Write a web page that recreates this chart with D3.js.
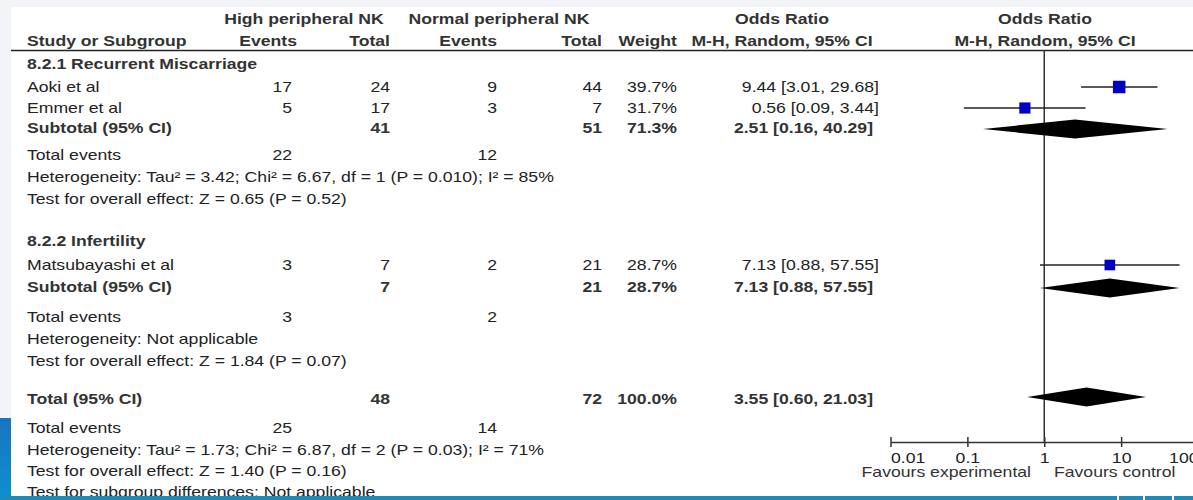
<!DOCTYPE html>
<html>
<head>
<meta charset="utf-8">
<script src="https://cdn.jsdelivr.net/npm/d3@7"></script>
<style>
	body { margin: 0; background: #fff; }
	svg { display: block; font-family: "Liberation Sans", Arial, Helvetica, sans-serif; }
</style>
</head>
<body>
<div id="forest"></div>
<script>

// study rows
const studies = ['Aoki et al', 'Emmer et al', 'Matsubayashi et al']
const studyGroup = [0, 0, 1]
const highEvents = [17, 5, 3]
const highTotal = [24, 17, 7]
const normalEvents = [9, 3, 2]
const normalTotal = [44, 7, 21]
const weights = [39.7, 31.7, 28.7]
const oddsRatio = [9.44, 0.56, 7.13]
const ciLow = [3.01, 0.09, 0.88]
const ciHigh = [29.68, 3.44, 57.55]

// subgroups
const groupNames = ['8.2.1 Recurrent Miscarriage', '8.2.2 Infertility']
const groupHighTotal = [41, 7]
const groupNormalTotal = [51, 21]
const groupWeight = [71.3, 28.7]
const groupOR = [2.51, 7.13]
const groupLow = [0.16, 0.88]
const groupHigh = [40.29, 57.55]
const groupHighEvents = [22, 3]
const groupNormalEvents = [12, 2]
const groupHetero = ['Heterogeneity: Tau² = 3.42; Chi² = 6.67, df = 1 (P = 0.010); I² = 85%', 'Heterogeneity: Not applicable']
const groupEffect = ['Test for overall effect: Z = 0.65 (P = 0.52)', 'Test for overall effect: Z = 1.84 (P = 0.07)']

// overall
const overallTotals = [48, 72]
const overallWeight = [100.0]
const overallOR = [3.55, 0.60, 21.03]
const overallEvents = [25, 14]
const overallText = ['Heterogeneity: Tau² = 1.73; Chi² = 6.87, df = 2 (P = 0.03); I² = 71%', 'Test for overall effect: Z = 1.40 (P = 0.16)', 'Test for subgroup differences: Not applicable']

// axis
const tickValues = [0.01, 0.1, 1, 10, 100]
const tickLabels = ['0.01', '0.1', '1', '10', '100']
const favours = ['Favours experimental', 'Favours control']

// layout (row centres)
const rowStudy = [87, 108, 265]
const rowGroup = [
	{ title: 64, sub: 128, events: 155, het: 177, eff: 199 },
	{ title: 241, sub: 287, events: 317, het: 339, eff: 361 }
]
const rowTotal = { sub: 399, events: 428, text: [450, 471, 492] }

const width = 1193, height = 500
const sx = 1.26, fs = 14
const col = { name: 27, hiEv: 292, hiTot: 390, noEv: 497, noTot: 602, weight: 677, ci: 879 }

const fmt2 = d3.format('.2f')
const fmtW = d => d3.format('.1f')(d) + '%'
const ciText = (o, l, h) => `${fmt2(o)} [${fmt2(l)}, ${fmt2(h)}]`

const svg = d3.select('#forest')
	.append('svg')
	.attr('width', width)
	.attr('height', height)

// page decoration
svg.append('rect').attr('x', 0).attr('y', 0).attr('width', width).attr('height', 7).attr('fill', '#f2f4f8')
svg.append('rect').attr('x', 0).attr('y', 0).attr('width', 11).attr('height', 418).attr('fill', '#f2f4f8')
const grad = svg.append('defs').append('linearGradient').attr('id', 'side').attr('x1', 0).attr('y1', 0).attr('x2', 0).attr('y2', 1)
grad.append('stop').attr('offset', '0%').attr('stop-color', '#1a74bf')
grad.append('stop').attr('offset', '100%').attr('stop-color', '#0e8fd2')
svg.append('rect').attr('x', 0).attr('y', 418).attr('width', 11).attr('height', 82).attr('fill', 'url(#side)')

// stretched text helper
function txt(x, y, s, anchor, bold, color) {
	return svg.append('text')
		.attr('transform', `translate(${x},${y + 5}) scale(${sx},1)`)
		.attr('text-anchor', anchor || 'start')
		.style('font-size', fs + 'px')
		.style('font-weight', bold ? 'bold' : 'normal')
		.attr('fill', color || '#222')
		.text(s)
}

// header
const hc = '#333'
txt(304, 19, 'High peripheral NK', 'middle', true, hc)
txt(499, 19, 'Normal peripheral NK', 'middle', true, hc)
txt(782, 19, 'Odds Ratio', 'middle', true, hc)
txt(1045, 19, 'Odds Ratio', 'middle', true, hc)
txt(col.name, 41, 'Study or Subgroup', 'start', true, hc)
txt(297, 41, 'Events', 'end', true, hc)
txt(col.hiTot, 41, 'Total', 'end', true, hc)
txt(col.noEv, 41, 'Events', 'end', true, hc)
txt(col.noTot, 41, 'Total', 'end', true, hc)
txt(col.weight, 41, 'Weight', 'end', true, hc)
txt(782, 41, 'M-H, Random, 95% CI', 'middle', true, hc)
txt(1045, 41, 'M-H, Random, 95% CI', 'middle', true, hc)

svg.append('line').attr('x1', 11).attr('x2', width).attr('y1', 50.5).attr('y2', 50.5)
	.attr('stroke', '#222').attr('stroke-width', 1.5)

// log scale for the plot
const x = d3.scaleLog()
	.domain([0.01, 100])
	.range([890.5, 1198])

const size = d3.scaleSqrt()
	.domain([0, 39.7])
	.range([0, 12.5])

const axisY = 442

// no effect line
svg.append('line')
	.attr('x1', x(1)).attr('x2', x(1))
	.attr('y1', 50).attr('y2', axisY)
	.attr('stroke', '#333').attr('stroke-width', 1.5)

function diamond(o, l, h, y) {
	const hh = 9.5
	svg.append('path')
		.attr('d', `M${x(l)},${y}L${x(o)},${y - hh}L${x(h)},${y}L${x(o)},${y + hh}Z`)
		.attr('fill', '#000')
}

// groups
groupNames.forEach(function (g, gi) {
	const r = rowGroup[gi]
	txt(col.name, r.title, g, 'start', true, hc)

	studies.forEach(function (s, i) {
		if (studyGroup[i] !== gi) return
		const y = rowStudy[i]
		txt(col.name, y, s)
		txt(col.hiEv, y, highEvents[i], 'end')
		txt(col.hiTot, y, highTotal[i], 'end')
		txt(col.noEv, y, normalEvents[i], 'end')
		txt(col.noTot, y, normalTotal[i], 'end')
		txt(col.weight, y, fmtW(weights[i]), 'end')
		txt(col.ci, y, ciText(oddsRatio[i], ciLow[i], ciHigh[i]), 'end')

		svg.append('line')
			.attr('x1', x(ciLow[i])).attr('x2', x(ciHigh[i]))
			.attr('y1', y).attr('y2', y)
			.attr('stroke', '#222').attr('stroke-width', 1.5)
		const s2 = size(weights[i])
		svg.append('rect')
			.attr('x', x(oddsRatio[i]) - s2 / 2)
			.attr('y', y - s2 / 2)
			.attr('width', s2).attr('height', s2)
			.attr('fill', '#0000c2')
	})

	txt(col.name, r.sub, 'Subtotal (95% CI)', 'start', true, hc)
	txt(col.hiTot, r.sub, groupHighTotal[gi], 'end', true, hc)
	txt(col.noTot, r.sub, groupNormalTotal[gi], 'end', true, hc)
	txt(col.weight, r.sub, fmtW(groupWeight[gi]), 'end', true, hc)
	txt(col.ci - 6, r.sub, ciText(groupOR[gi], groupLow[gi], groupHigh[gi]), 'end', true, hc)
	diamond(groupOR[gi], groupLow[gi], groupHigh[gi], r.sub + 1)

	txt(col.name, r.events, 'Total events')
	txt(col.hiEv, r.events, groupHighEvents[gi], 'end')
	txt(col.noEv, r.events, groupNormalEvents[gi], 'end')
	txt(col.name, r.het, groupHetero[gi])
	txt(col.name, r.eff, groupEffect[gi])
})

// overall
txt(col.name, rowTotal.sub, 'Total (95% CI)', 'start', true, hc)
txt(col.hiTot, rowTotal.sub, overallTotals[0], 'end', true, hc)
txt(col.noTot, rowTotal.sub, overallTotals[1], 'end', true, hc)
txt(col.weight, rowTotal.sub, fmtW(overallWeight[0]), 'end', true, hc)
txt(col.ci - 6, rowTotal.sub, ciText(overallOR[0], overallOR[1], overallOR[2]), 'end', true, hc)
diamond(overallOR[0], overallOR[1], overallOR[2], rowTotal.sub - 2)
txt(col.name, rowTotal.events, 'Total events')
txt(col.hiEv, rowTotal.events, overallEvents[0], 'end')
txt(col.noEv, rowTotal.events, overallEvents[1], 'end')
overallText.forEach((t, i) => txt(col.name, rowTotal.text[i], t))

// axis
const axis = svg.append('g')
	.attr('transform', `translate(0,${axisY})`)
	.call(d3.axisBottom(x)
		.tickValues(tickValues)
		.tickFormat((d, i) => tickLabels[i])
		.tickSizeInner(5)
		.tickSizeOuter(0))

axis.select('.domain').attr('stroke', '#333').attr('stroke-width', 1.5)
axis.selectAll('.tick line').attr('y1', -5).attr('y2', 5).attr('stroke', '#333').attr('stroke-width', 1.5)
axis.selectAll('.tick text')
	.attr('y', 21).attr('dy', 0)
	.attr('fill', '#222')
	.style('font-size', fs + 'px')
	.style('font-family', '"Liberation Sans", Arial, sans-serif')
	.attr('text-anchor', (d, i) => i === 0 ? 'start' : (i === tickValues.length - 1 ? 'end' : 'middle'))
	.attr('transform', `scale(${sx},1)`)

txt(1031, 472, favours[0], 'end', false, '#333')
txt(1054, 472, favours[1], 'start', false, '#333')

// bottom rule
svg.append('rect').attr('x', 0).attr('y', 496).attr('width', width).attr('height', 4).attr('fill', '#1a8cb7')
;[1117, 1143, 1172].forEach(gx => {
	svg.append('rect').attr('x', gx).attr('y', 496).attr('width', 2).attr('height', 4).attr('fill', '#fff')
})

</script>
</body>
</html>
